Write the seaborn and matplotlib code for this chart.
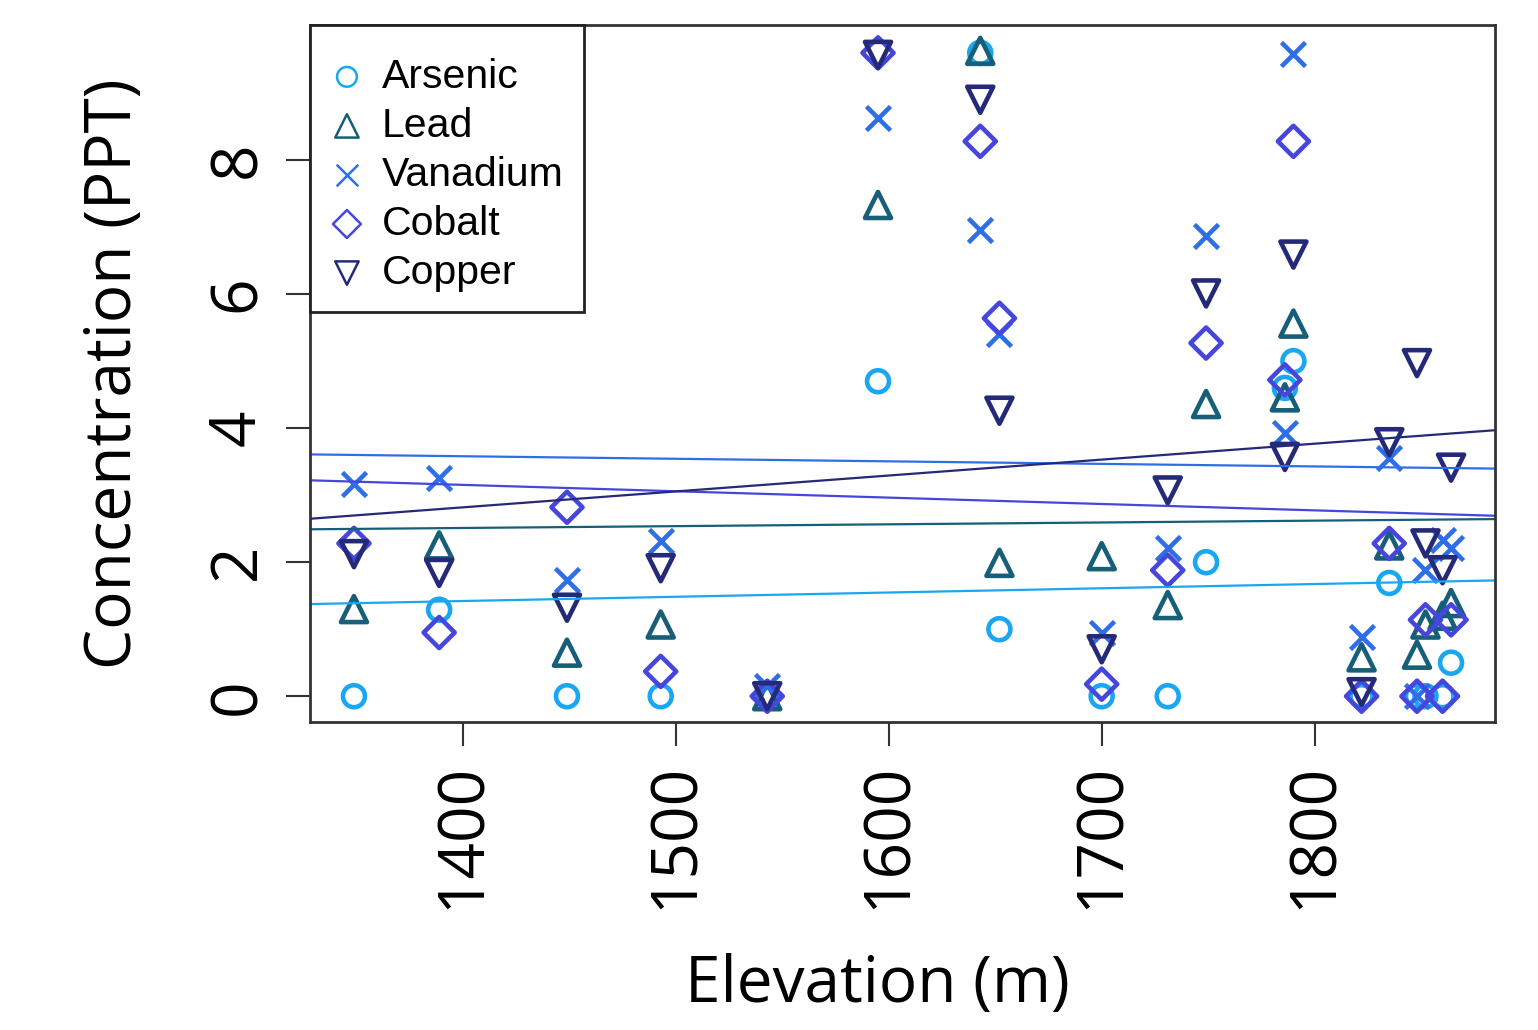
import matplotlib
matplotlib.use("Agg")
import matplotlib.pyplot as plt
import seaborn as sns
import pandas as pd
import numpy as np

# ---- data ----
elevation = [1349, 1389, 1449, 1493, 1543, 1595, 1643, 1652, 1700, 1731,
             1749, 1790, 1786, 1822, 1835, 1848, 1852, 1860, 1864]
arsenic  = [0, 1.29, 0, 0, 0, 4.70, 9.60, 1.00, 0, 0,
            2.00, 5.00, 4.60, 0, 1.69, 0, 0, 0, 0.50]
lead     = [1.30, 2.25, 0.65, 1.07, 0, 7.33, 9.63, 1.99, 2.09, 1.36,
            4.36, 5.56, 4.46, 0.58, 2.25, 0.62, 1.07, 1.20, 1.39]
vanadium = [3.16, 3.26, 1.74, 2.31, 0.15, 8.63, 6.96, 5.40, 0.95, 2.21,
            6.86, 9.58, 3.93, 0.89, 3.55, 0, 1.88, 2.33, 2.21]
cobalt   = [2.28, 0.95, 2.82, 0.37, 0, 9.60, 8.28, 5.64, 0.18, 1.88,
            5.27, 8.28, 4.72, 0, 2.28, 0, 1.14, 0, 1.14]
copper   = [2.12, 1.84, 1.32, 1.91, 0, 9.57, 8.90, 4.26, 0.70, 3.07,
            6.01, 6.59, 3.57, 0.06, 3.79, 4.97, 2.28, 1.88, 3.41]

metals = ["Arsenic", "Lead", "Vanadium", "Cobalt", "Copper"]
series = [arsenic, lead, vanadium, cobalt, copper]
colors = ["#1aa7f2", "#175e78", "#2f6fe6", "#4646dc", "#252a78"]
markers = ["o", "^", "x", "D", "v"]
sizes = [250, 350, 300, 250, 350]

df = pd.concat([pd.DataFrame({"Elevation": elevation, "Concentration": v, "Metal": m})
                for m, v in zip(metals, series)], ignore_index=True)

sns.set_theme(style="white")
plt.rcParams["font.family"] = ["Open Sans", "DejaVu Sans"]
for k in ["text.color", "axes.labelcolor", "xtick.color", "ytick.color"]:
    plt.rcParams[k] = "black"

fig = plt.figure(figsize=(15.38, 10.30), dpi=100)
ax = fig.add_axes([0.2016, 0.299, 0.7704, 0.6767])

xmin, xmax = min(elevation), max(elevation)
xr = xmax - xmin
ax.set_xlim(xmin - 0.04 * xr, xmax + 0.04 * xr)
ax.set_ylim(-0.04 * 9.63, 9.63 * 1.04)

for m, c, mk, s in zip(metals, colors, markers, sizes):
    sub = df[df["Metal"] == m]
    if mk == "x":
        sns.scatterplot(data=sub, x="Elevation", y="Concentration", ax=ax,
                        marker=mk, color=c, s=s, linewidth=3.3, label=m)
    else:
        sns.scatterplot(data=sub, x="Elevation", y="Concentration", ax=ax,
                        marker=mk, facecolor="none", edgecolor=c, s=s,
                        linewidth=3.3, label=m)

for m, c in zip(metals, colors):
    sub = df[df["Metal"] == m]
    sns.regplot(data=sub, x="Elevation", y="Concentration", ax=ax,
                scatter=False, ci=None, truncate=False,
                line_kws={"color": c, "linewidth": 1.6})

ax.set_xlim(xmin - 0.04 * xr, xmax + 0.04 * xr)
ax.set_ylim(-0.04 * 9.63, 9.63 * 1.04)

ax.set_xticks([1400, 1500, 1600, 1700, 1800])
ax.set_yticks([0, 2, 4, 6, 8])
ax.tick_params(axis="both", which="both", direction="out", length=17, width=1.5,
               color="#333333", labelcolor="black", labelsize=46, pad=12,
               bottom=True, left=True)
for lab in ax.get_xticklabels():
    lab.set_rotation(90)
for lab in ax.get_yticklabels():
    lab.set_rotation(90)
    lab.set_va("center")

ax.set_xlabel("Elevation (m)", fontsize=46, color="black")
ax.set_ylabel("Concentration (PPT)", fontsize=46, color="black")
ax.xaxis.set_label_coords((877 - 310) / 1185, -(985 - 722) / 697, transform=ax.transAxes)
ax.yaxis.set_label_coords(-(310 - 114) / 1185, 0.5, transform=ax.transAxes)
ax.xaxis.label.set_va("center")
ax.yaxis.label.set_va("center")

for sp in ax.spines.values():
    sp.set_visible(True)
    sp.set_color("#333333")
    sp.set_linewidth(2)

leg = ax.legend(loc="upper left", borderaxespad=0, fancybox=False,
                frameon=True, edgecolor="#222222", framealpha=1,
                prop={"family": "Liberation Sans", "size": 29.5},
                markerscale=0.9, handletextpad=0.45, labelspacing=0.27,
                borderpad=0.5, handlelength=0.8, labelcolor="black",
                title=" ", title_fontsize=1)
leg.get_frame().set_linewidth(2)
for h in leg.legend_handles:
    h.set_linewidth(1.8)

fig.savefig("out.png", dpi=100, facecolor="white")
